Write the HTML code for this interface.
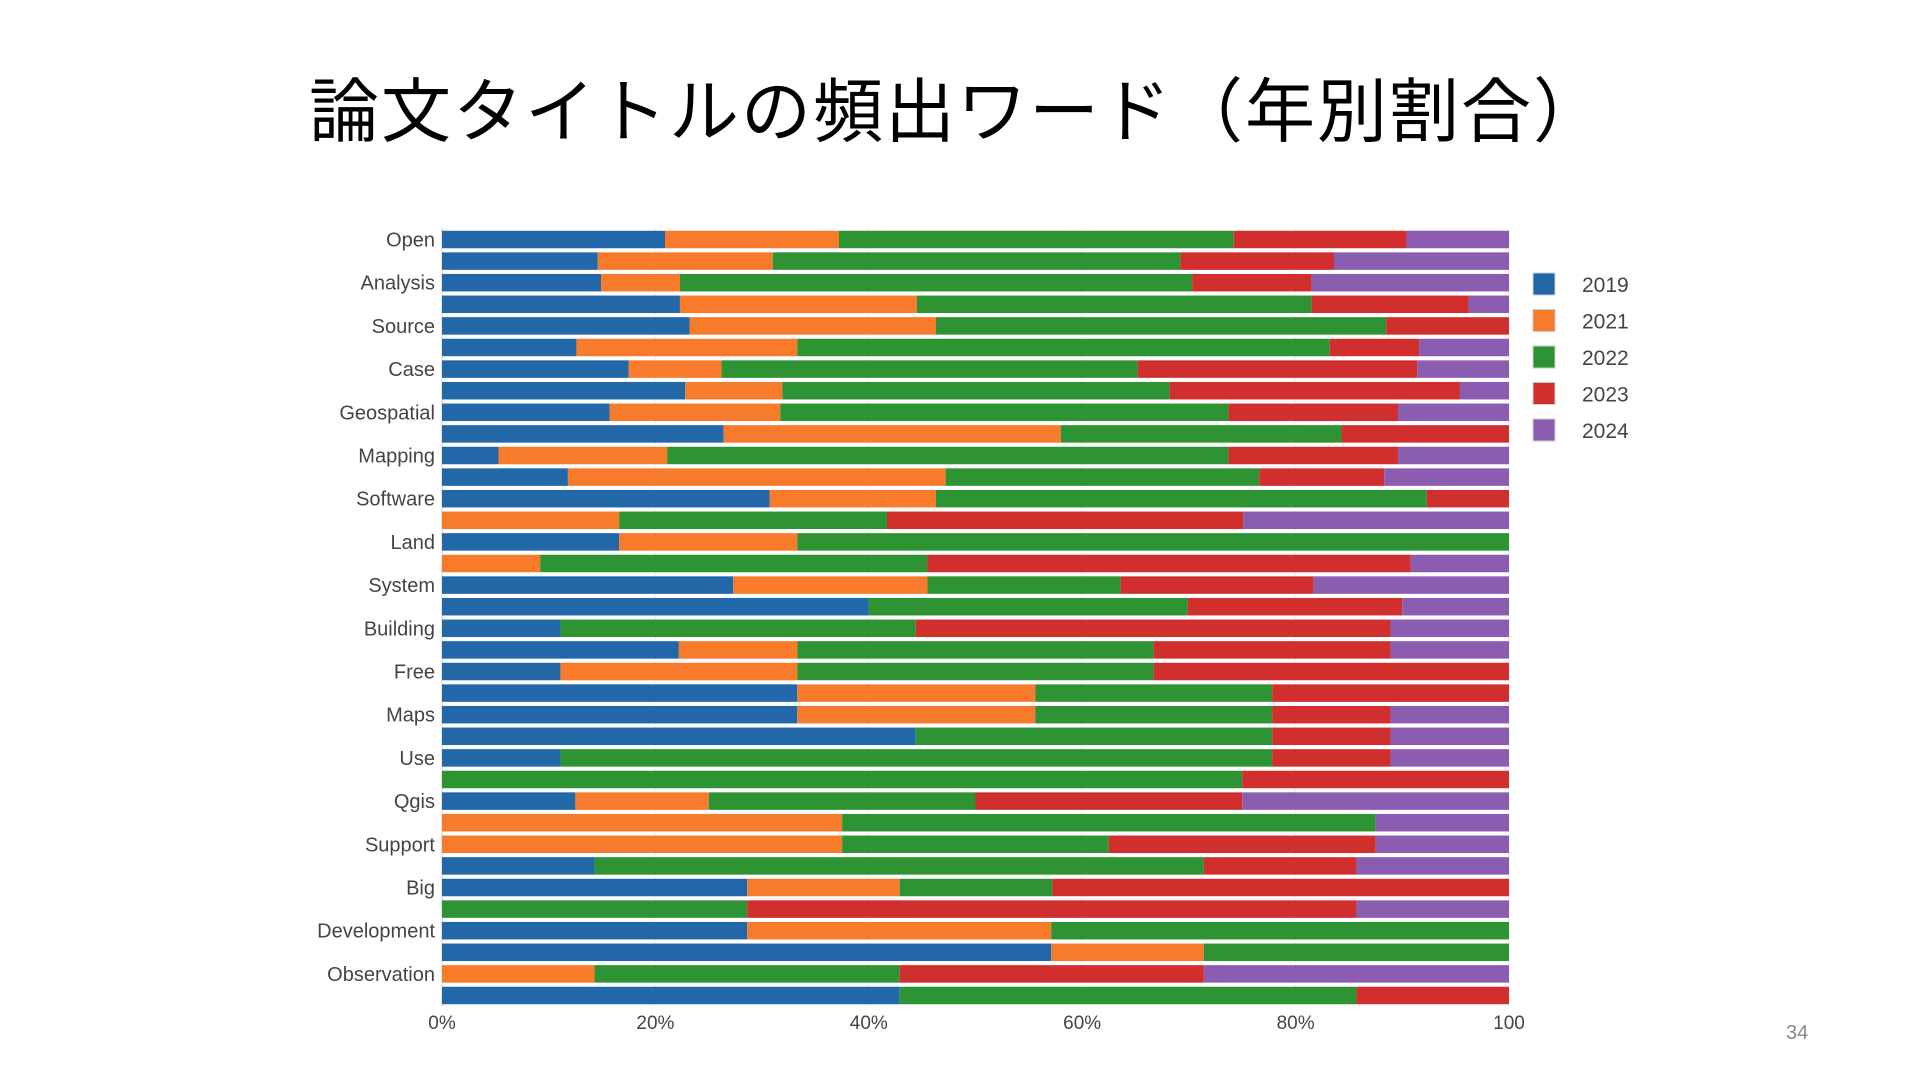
<!DOCTYPE html>
<html><head><meta charset="utf-8"><style>
html,body{margin:0;padding:0;background:#fff;}
body{width:1920px;height:1080px;overflow:hidden;position:relative;font-family:"Liberation Sans","Noto Sans CJK JP",sans-serif;}
#title{position:absolute;left:15px;width:1884px;top:62px;text-align:center;font-size:70px;letter-spacing:2px;color:#000;font-family:"Noto Sans CJK JP","Liberation Sans",sans-serif;line-height:90px;}
#pg{position:absolute;left:1786px;top:1022px;font-size:20px;color:#888;}
</style></head><body>
<div id="title">論文タイトルの頻出ワード（年別割合）</div>
<svg id="chart" width="1920" height="1080" style="position:absolute;left:0;top:0"></svg>
<div id="pg">34</div>
<script>
const labels=["Open","","Analysis","","Source","","Case","","Geospatial","","Mapping","","Software","","Land","","System","","Building","","Free","","Maps","","Use","","Qgis","","Support","","Big","","Development","","Observation",""];
const series=["2019","2021","2022","2023","2024"];
const colors=["#2268a8","#f77b2a","#2e9332","#d12f2e","#8a5db1"];
const v2019=[20.9,14.6,14.9,22.3,23.2,12.6,17.5,22.8,15.7,26.4,5.3,11.8,30.7,0,16.6,0,27.3,40.0,11.1,22.2,11.1,33.3,33.3,44.4,11.1,0,12.5,0,0,14.3,28.6,0,28.6,57.1,0,42.9];
const v2021=[16.3,16.4,7.4,22.2,23.1,20.7,8.7,9.1,16.0,31.6,15.8,35.4,15.6,16.6,16.7,9.2,18.2,0,0,11.1,22.2,22.3,22.3,0,0,0,12.5,37.5,37.5,0,14.3,0,28.5,14.3,14.3,0];
const v2022=[37.0,38.2,48.0,37.0,42.2,49.9,39.0,36.3,42.0,26.3,52.6,29.4,46.0,25.1,66.7,36.3,18.1,29.9,33.3,33.4,33.4,22.2,22.2,33.4,66.7,75,25,50,25,57.1,14.3,28.6,42.9,28.6,28.6,42.8];
const v2023=[16.2,14.4,11.2,14.7,11.5,8.4,26.2,27.2,15.9,15.7,15.9,11.7,7.7,33.4,0,45.3,18.1,20.1,44.5,22.2,33.3,22.2,11.1,11.1,11.1,25,25,0,25,14.3,42.8,57.1,0,0,28.5,14.3];
const v2024=[9.6,16.4,18.5,3.8,0,8.4,8.6,4.6,10.4,0,10.4,11.7,0,24.9,0,9.2,18.3,10.0,11.1,11.1,0,0,11.1,11.1,11.1,0,25,12.5,12.5,14.3,0,14.3,0,0,28.6,0];
const ticks=[0,20,40,60,80,100];
const tickLabels=["0%","20%","40%","60%","80%","100"];
const NS="http://www.w3.org/2000/svg";
const svg=document.getElementById('chart');
const X0=442,X1=1509,Y0=239.5,PITCH=21.6,BH=17.5;
const x=p=>X0+(X1-X0)*p/100;
const y=i=>Y0+i*PITCH;
function mk(t,a){const e=document.createElementNS(NS,t);for(const k in a)e.setAttribute(k,a[k]);svg.appendChild(e);return e;}
ticks.forEach((t,i)=>{
  const g=mk('line',{x1:x(t),x2:x(t),y1:y(0)-BH/2-3,y2:y(35)+BH/2+2,stroke:i==0?'#ccc':'#eee','stroke-width':1});
  
  
  const tl=mk('text',{x:x(t),y:1029,'text-anchor':'middle','font-size':19,fill:'#444'});
  
  
  tl.textContent=tickLabels[i];
});
const all=[v2019,v2021,v2022,v2023,v2024];
labels.forEach((lab,i)=>{
  let tot=all.reduce((s,a)=>s+a[i],0),acc=0;
  all.forEach((arr,s)=>{
    const w=arr[i]/tot*100;
    if(w>0){
      const r=mk('rect',{x:x(acc),y:y(i)-BH/2,width:x(acc+w)-x(acc),height:BH,fill:colors[s]});
      
      
    }
    acc+=w;
  });
  if(lab){
    const t=mk('text',{x:435,y:y(i)+7,'text-anchor':'end','font-size':20,fill:'#444'});
    
    
    t.textContent=lab;
  }
});
series.forEach((s,i)=>{
  const yy=284+i*36.5;
  const r=mk('rect',{x:1533,y:yy-11,width:22,height:22,fill:colors[i],stroke:'#ccc','stroke-width':1});
  
  
  const t=mk('text',{x:1582,y:yy+8,'font-size':21,fill:'#444'});
  
  
  t.textContent=s;
});
</script>
</body></html>
